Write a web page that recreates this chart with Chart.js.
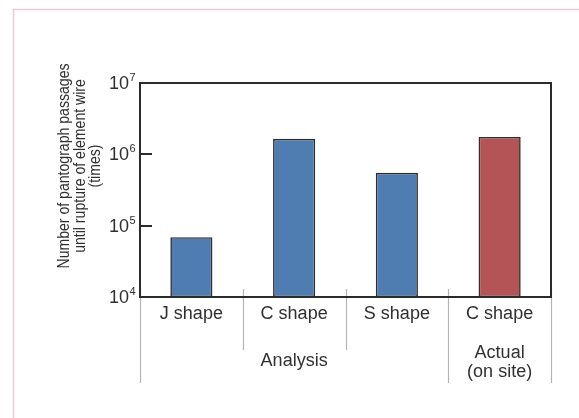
<!DOCTYPE html>
<html>
<head>
<meta charset="utf-8">
<script src="https://cdn.jsdelivr.net/npm/chart.js@4"></script>
<style>
  html, body { margin: 0; padding: 0; background: #ffffff; }
  #c { display: block; }
</style>
</head>
<body>
<canvas id="c" width="579" height="418"></canvas>
<script>
// ---- data ----
const categories = ['J shape', 'C shape', 'S shape', 'C shape'];
const groupOfCategory = ['Analysis', 'Analysis', 'Analysis', 'Actual (on site)'];
const groupLabels = { 'Analysis': ['Analysis'], 'Actual (on site)': ['Actual', '(on site)'] };
const passages = [69000, 1650000, 550000, 1750000];
const yTickValues = [1e4, 1e5, 1e6, 1e7];
const yTitleLines = ['Number of pantograph passages', 'until rupture of element wire', '(times)'];

const FONT = "'Liberation Sans', Arial, Helvetica, sans-serif";
const TEXT = '#303030';
const BLUE = '#4f7db1';
const RED = '#b45457';

const decorPlugin = {
  id: 'decor',
  beforeDraw(chart) {
    const ctx = chart.ctx;
    ctx.save();
    ctx.fillStyle = '#ffffff';
    ctx.fillRect(0, 0, chart.width, chart.height);
    // outer pink frame (top & left visible)
    ctx.strokeStyle = '#e9cbd0';
    ctx.lineWidth = 1.5;
    ctx.beginPath();
    ctx.moveTo(chart.width + 2, 9.5);
    ctx.lineTo(13.5, 9.5);
    ctx.lineTo(13.5, chart.height + 2);
    ctx.stroke();
    ctx.restore();
  },
  afterDraw(chart) {
    const ctx = chart.ctx;
    const ca = chart.chartArea;
    const xs = chart.scales.x;
    const ys = chart.scales.y;
    ctx.save();

    // group separators below the axis
    const n = categories.length;
    const bounds = [];
    for (let i = 0; i <= n; i++) {
      let x;
      if (i === 0) x = ca.left;
      else if (i === n) x = ca.right;
      else x = (xs.getPixelForValue(i - 1) + xs.getPixelForValue(i)) / 2;
      const long = i === 0 || i === n || groupOfCategory[i - 1] !== groupOfCategory[i];
      bounds.push({ x, long });
    }
    ctx.strokeStyle = '#b4b4b4';
    ctx.lineWidth = 1.2;
    bounds.forEach(b => {
      ctx.beginPath();
      ctx.moveTo(Math.round(b.x) + 0.5, ca.bottom - 8);
      ctx.lineTo(Math.round(b.x) + 0.5, b.long ? ca.bottom + 86 : ca.bottom + 53);
      ctx.stroke();
    });

    // group labels
    ctx.fillStyle = TEXT;
    ctx.font = '18px ' + FONT;
    ctx.textAlign = 'center';
    ctx.textBaseline = 'middle';
    let start = 0;
    for (let i = 1; i <= n; i++) {
      if (i === n || groupOfCategory[i] !== groupOfCategory[start]) {
        const x0 = bounds[start].x, x1 = bounds[i].x;
        const lines = groupLabels[groupOfCategory[start]];
        const cy = ca.bottom + 64 + (lines.length - 1) * 1.5;
        const lh = 19;
        lines.forEach((t, k) => {
          ctx.fillText(t, (x0 + x1) / 2, cy + (k - (lines.length - 1) / 2) * lh);
        });
        start = i;
      }
    }

    // plot frame
    ctx.strokeStyle = '#2b2b2b';
    ctx.lineWidth = 2;
    ctx.strokeRect(ca.left, ca.top, ca.right - ca.left, ca.bottom - ca.top);

    // y ticks (inward) and labels 10^n
    yTickValues.forEach(v => {
      const y = Math.round(ys.getPixelForValue(v));
      ctx.beginPath();
      ctx.moveTo(ca.left, y);
      ctx.lineTo(ca.left + 12, y);
      ctx.stroke();
      const exp = Math.round(Math.log10(v));
      ctx.fillStyle = TEXT;
      ctx.font = '18px ' + FONT;
      ctx.textAlign = 'right';
      ctx.textBaseline = 'middle';
      ctx.fillText('10', ca.left - 11, y + 1);
      ctx.font = '11px ' + FONT;
      ctx.textAlign = 'left';
      ctx.fillText(String(exp), ca.left - 10.5, y - 5);
    });

    // y title
    ctx.fillStyle = TEXT;
    ctx.font = '16px ' + FONT;
    ctx.textAlign = 'center';
    ctx.textBaseline = 'middle';
    ctx.translate(0, 166);
    ctx.rotate(-Math.PI / 2);
    ctx.scale(0.88, 1);
    yTitleLines.forEach((t, k) => {
      ctx.fillText(t, 0, 65 + k * 15.5);
    });
    ctx.restore();
  }
};

new Chart(document.getElementById('c'), {
  type: 'bar',
  data: {
    labels: categories,
    datasets: [{
      data: passages,
      backgroundColor: ctx => groupOfCategory[ctx.dataIndex] === 'Analysis' ? BLUE : RED,
      borderColor: '#2e2e2e',
      borderWidth: 1.6,
      borderSkipped: false,
      barPercentage: 0.41,
      categoryPercentage: 1.0
    }]
  },
  options: {
    responsive: false,
    devicePixelRatio: 1,
    animation: false,
    layout: { padding: { left: 0, top: 83, right: 28, bottom: 0 } },
    plugins: { legend: { display: false }, tooltip: { enabled: false }, title: { display: false } },
    scales: {
      x: {
        type: 'category',
        grid: { display: false, drawTicks: false },
        border: { display: false },
        ticks: { color: TEXT, font: { family: FONT, size: 18 }, padding: 6, maxRotation: 0, autoSkip: false },
        afterFit: s => { s.height = 121; }
      },
      y: {
        type: 'logarithmic',
        min: 1e4,
        max: 1e7,
        grid: { display: false, drawTicks: false },
        border: { display: false },
        ticks: { display: false },
        afterFit: s => { s.width = 140; }
      }
    }
  },
  plugins: [decorPlugin]
});
</script>
</body>
</html>
